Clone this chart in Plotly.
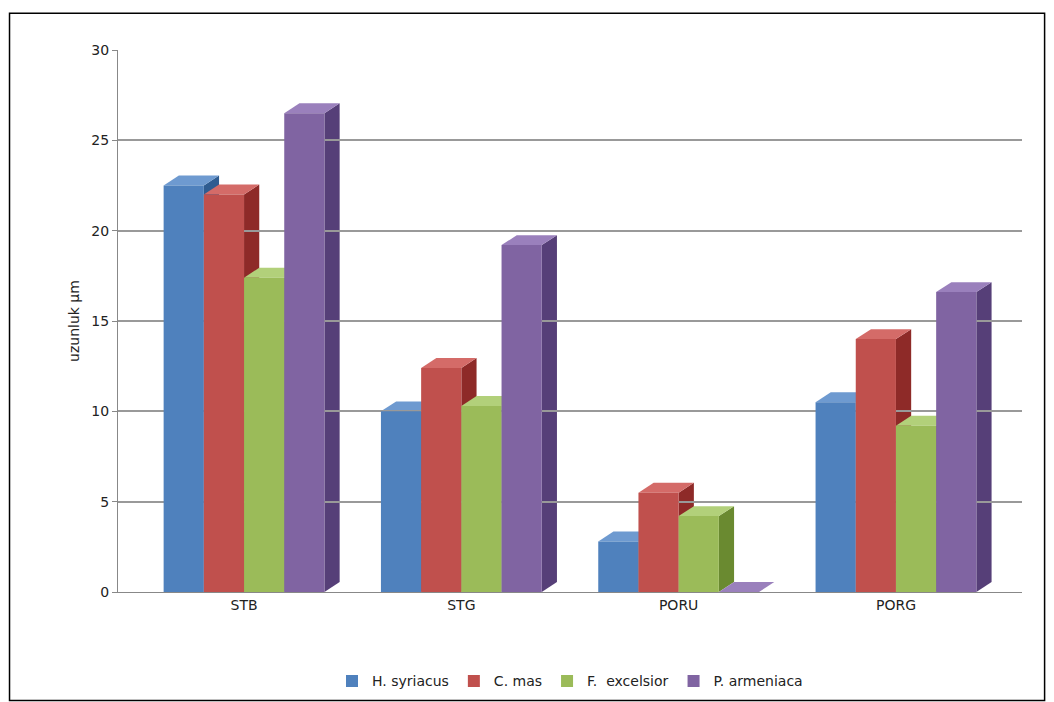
import plotly.graph_objects as go

categories = ['STB', 'STG', 'PORU', 'PORG']
series = ['H. syriacus', 'C. mas', 'F.  excelsior', 'P. armeniaca']
h_syriacus = [22.5, 10.0, 2.8, 10.5]
c_mas = [22.0, 12.4, 5.5, 14.0]
f_excelsior = [17.4, 10.3, 4.2, 9.2]
p_armeniaca = [26.5, 19.2, 0.0, 16.6]

values = [h_syriacus, c_mas, f_excelsior, p_armeniaca]
front = ['#4F81BD', '#C0504D', '#9BBB59', '#8064A2']
side = ['#2F5C91', '#8E2A28', '#6A8A30', '#563F78']
top = ['#6E9AD0', '#D46B68', '#B2D07A', '#9A80BC']

w = 0.185     # bar width (x units)
dx = 0.07     # depth offset x
dy = 0.55     # depth offset y

fig = go.Figure()
shapes = []
for s, name in enumerate(series):
    off = -2 * w + s * w
    fig.add_trace(go.Bar(
        x=list(range(len(categories))), y=values[s], name=name,
        width=w, offset=off, marker=dict(color=front[s], line=dict(width=0)),
    ))
    for i, v in enumerate(values[s]):
        x0 = i + off
        x1 = x0 + w
        shapes.append(dict(type='path', layer='below', line=dict(width=0), fillcolor=side[s],
                           path=f'M {x1},0 L {x1},{v} L {x1+dx},{v+dy} L {x1+dx},{dy} Z'))
        shapes.append(dict(type='path', layer='below', line=dict(width=0), fillcolor=top[s],
                           path=f'M {x0},{v} L {x1},{v} L {x1+dx},{v+dy} L {x0+dx},{v+dy} Z'))

# outer frame
shapes.append(dict(type='rect', xref='paper', yref='paper', x0=-0.12, x1=1.025, y0=-0.2, y1=1.068,
                   line=dict(color='black', width=1.5)))

fig.update_layout(
    width=1054, height=702,
    margin=dict(l=110, r=40, t=42, b=112),
    paper_bgcolor='white', plot_bgcolor='white',
    font=dict(family='DejaVu Sans', size=14, color='#222'),
    barmode='overlay', shapes=shapes,
    xaxis=dict(tickvals=list(range(len(categories))), ticktext=categories, range=[-0.58, 3.58],
               showline=True, linecolor='#888', ticks='', showgrid=False, zeroline=False),
    yaxis=dict(title=dict(text='uzunluk µm', font=dict(size=14), standoff=8), range=[0, 30], dtick=5,
               showgrid=True, gridcolor='#999', gridwidth=1.5, showline=True, linecolor='#888',
               ticks='outside', ticklen=5, tickcolor='#888', zeroline=False),
    legend=dict(orientation='h', x=0.5, xanchor='center', y=-0.165, yanchor='middle',
                bgcolor='rgba(0,0,0,0)', font=dict(size=14)),
)

fig.write_html('out.html')
